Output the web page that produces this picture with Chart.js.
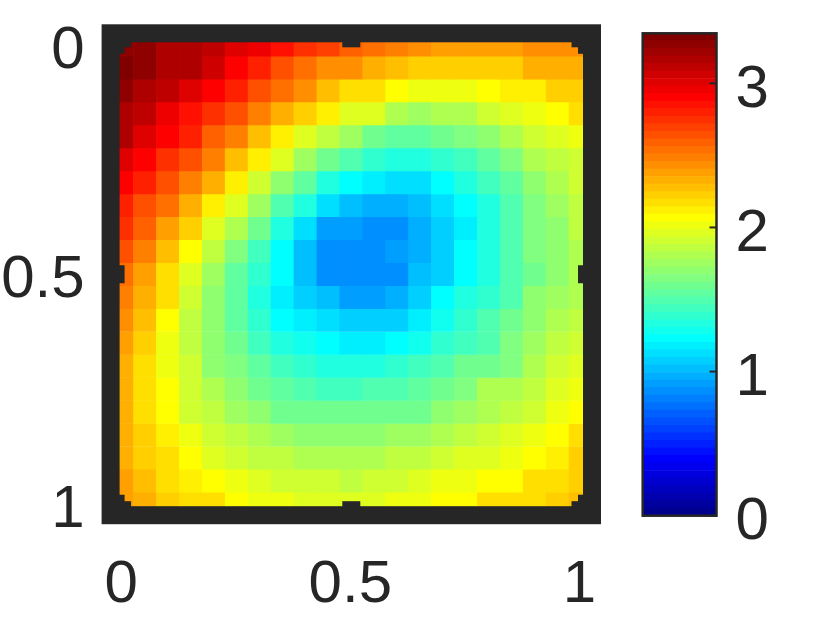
<!DOCTYPE html>
<html>
<head>
<meta charset="utf-8">
<script src="https://cdn.jsdelivr.net/npm/chart.js@4"></script>
<style>
  body { margin: 0; background: #fff; }
  canvas { position: absolute; left: 0; top: 0; }
</style>
</head>
<body>
<canvas id="heatChart" width="830" height="625"></canvas>
<canvas id="barChart" width="830" height="625"></canvas>
<script>
// data
const columns = ['0','0.05','0.1','0.15','0.2','0.25','0.3','0.35','0.4','0.45','0.5','0.55','0.6','0.65','0.7','0.75','0.8','0.85','0.9','0.95','1'];
const rowPositions = [0,0.05,0.1,0.15,0.2,0.25,0.3,0.35,0.4,0.45,0.5,0.55,0.6,0.65,0.7,0.75,0.8,0.85,0.9,0.95,1];
const axisTicks = [0, 0.5, 1];
const colorbarTicks = [0, 1, 2, 3];
const colorMax = 3.347;

const heatValues = [
  [3.29,3.27,3.19,3.17,3.11,3.03,2.98,2.87,2.75,2.70,2.58,2.54,2.48,2.44,2.39,2.39,2.39,2.39,2.43,2.43,2.43],
  [3.32,3.25,3.19,3.14,3.05,2.90,2.80,2.64,2.56,2.45,2.42,2.35,2.30,2.24,2.21,2.24,2.24,2.24,2.31,2.35,2.35],
  [3.27,3.19,3.09,3.03,2.91,2.80,2.64,2.54,2.43,2.29,2.19,2.17,2.07,2.01,2.01,2.01,2.07,2.12,2.12,2.24,2.24],
  [3.19,3.09,2.98,2.87,2.75,2.64,2.48,2.33,2.22,2.12,1.96,1.96,1.80,1.75,1.80,1.80,1.91,1.96,2.01,2.07,2.17],
  [3.14,3.03,2.90,2.80,2.59,2.46,2.275,2.12,1.96,1.84,1.75,1.60,1.54,1.54,1.60,1.65,1.70,1.80,1.91,1.96,2.00],
  [3.03,2.90,2.75,2.64,2.48,2.275,2.12,1.96,1.75,1.60,1.49,1.39,1.33,1.33,1.39,1.44,1.54,1.65,1.78,1.84,1.89],
  [2.90,2.80,2.64,2.48,2.33,2.12,1.89,1.70,1.54,1.33,1.23,1.18,1.12,1.12,1.23,1.33,1.44,1.54,1.70,1.80,1.89],
  [2.80,2.64,2.54,2.33,2.12,1.96,1.73,1.49,1.33,1.12,1.02,0.97,0.97,1.02,1.12,1.23,1.33,1.49,1.65,1.75,1.84],
  [2.75,2.59,2.38,2.22,1.96,1.80,1.60,1.33,1.12,0.93,0.89,0.86,0.86,0.97,1.05,1.18,1.33,1.49,1.65,1.70,1.84],
  [2.64,2.48,2.275,2.07,1.86,1.65,1.44,1.23,1.02,0.86,0.84,0.84,0.89,0.97,1.05,1.23,1.33,1.49,1.65,1.70,1.78],
  [2.54,2.38,2.19,1.96,1.75,1.54,1.39,1.23,1.02,0.86,0.84,0.86,0.86,1.00,1.09,1.23,1.33,1.49,1.62,1.70,1.78],
  [2.51,2.33,2.17,1.89,1.68,1.54,1.33,1.18,1.09,1.00,0.93,0.93,0.97,1.05,1.23,1.33,1.39,1.49,1.68,1.75,1.78],
  [2.45,2.275,2.07,1.84,1.68,1.54,1.39,1.23,1.20,1.12,1.09,1.05,1.09,1.20,1.28,1.39,1.49,1.60,1.70,1.80,1.84],
  [2.40,2.24,2.01,1.84,1.68,1.60,1.44,1.33,1.28,1.23,1.20,1.20,1.23,1.28,1.39,1.44,1.49,1.65,1.75,1.86,1.89],
  [2.35,2.19,2.00,1.89,1.70,1.65,1.54,1.44,1.39,1.33,1.33,1.33,1.39,1.44,1.49,1.60,1.62,1.65,1.78,1.91,1.94],
  [2.33,2.19,2.07,1.89,1.78,1.68,1.60,1.54,1.49,1.44,1.44,1.47,1.49,1.54,1.60,1.65,1.78,1.80,1.86,1.96,2.00],
  [2.33,2.19,2.07,1.91,1.84,1.73,1.68,1.62,1.60,1.60,1.60,1.62,1.62,1.62,1.68,1.73,1.80,1.86,1.91,2.01,2.07],
  [2.33,2.22,2.12,2.00,1.89,1.84,1.78,1.75,1.70,1.70,1.70,1.70,1.75,1.75,1.78,1.84,1.89,1.94,2.01,2.07,2.17],
  [2.33,2.22,2.17,2.07,1.96,1.91,1.86,1.86,1.80,1.80,1.80,1.80,1.86,1.86,1.89,1.94,1.96,2.01,2.07,2.12,2.22],
  [2.38,2.275,2.17,2.12,2.07,2.01,1.96,1.91,1.91,1.91,1.86,1.91,1.91,1.96,2.01,2.01,2.07,2.07,2.17,2.17,2.22],
  [2.38,2.35,2.24,2.19,2.17,2.07,2.01,2.01,1.96,1.96,1.94,1.96,2.01,2.01,2.07,2.07,2.17,2.19,2.19,2.24,2.30]
];

// MATLAB jet, 64 levels
const jet = [
  '#00008f','#00009f','#0000af','#0000bf','#0000cf','#0000df','#0000ef','#0000ff',
  '#0010ff','#0020ff','#0030ff','#0040ff','#0050ff','#0060ff','#0070ff','#0080ff',
  '#008fff','#009fff','#00afff','#00bfff','#00cfff','#00dfff','#00efff','#00ffff',
  '#10ffef','#20ffdf','#30ffcf','#40ffbf','#50ffaf','#60ff9f','#70ff8f','#80ff80',
  '#8fff70','#9fff60','#afff50','#bfff40','#cfff30','#dfff20','#efff10','#ffff00',
  '#ffef00','#ffdf00','#ffcf00','#ffbf00','#ffaf00','#ff9f00','#ff8f00','#ff8000',
  '#ff7000','#ff6000','#ff5000','#ff4000','#ff3000','#ff2000','#ff1000','#ff0000',
  '#ef0000','#df0000','#cf0000','#bf0000','#af0000','#9f0000','#8f0000','#800000'
];

const dark = '#262626';
const labelFont = { family: '"Liberation Sans", Arial, sans-serif', size: 60 };

function colorFor(v) {
  return jet[Math.min(jet.length - 1, Math.floor(v / colorMax * jet.length))];
}

// thick box + thick inward ticks on all four sides (corners are just ticks at 0 and 1)
const framePlugin = {
  id: 'frame',
  afterDraw(chart) {
    const { ctx, chartArea: a, scales } = chart;
    const lw = 18, tickLen = 14;
    ctx.save();
    ctx.strokeStyle = dark;
    ctx.fillStyle = dark;
    ctx.lineWidth = lw;
    ctx.strokeRect(a.left, a.top, a.right - a.left, a.bottom - a.top);
    axisTicks.forEach((t) => {
      const px = scales.x.getPixelForValue(columns.indexOf(String(t)));
      ctx.fillRect(px - lw / 2, a.top, lw, tickLen);
      ctx.fillRect(px - lw / 2, a.bottom - tickLen, lw, tickLen);
      const py = scales.y.getPixelForValue(t);
      ctx.fillRect(a.left, py - lw / 2, tickLen, lw);
      ctx.fillRect(a.right - tickLen, py - lw / 2, tickLen, lw);
    });
    ctx.restore();
  }
};

const colorbarFrame = {
  id: 'colorbarFrame',
  afterDraw(chart) {
    const { ctx, chartArea: a, scales } = chart;
    ctx.save();
    ctx.strokeStyle = dark;
    ctx.lineWidth = 2.5;
    ctx.strokeRect(a.left, a.top, a.right - a.left, a.bottom - a.top);
    ctx.lineWidth = 2;
    colorbarTicks.forEach((t) => {
      const py = scales.y.getPixelForValue(t);
      ctx.beginPath();
      ctx.moveTo(a.right - 7, py);
      ctx.lineTo(a.right, py);
      ctx.stroke();
    });
    ctx.restore();
  }
};

const half = 0.0255; // a hair over half a cell so no seams show
new Chart(document.getElementById('heatChart'), {
  type: 'bar',
  data: {
    labels: columns,
    datasets: heatValues.map((row, r) => ({
      data: row.map(() => [rowPositions[r] - half, rowPositions[r] + half]),
      backgroundColor: row.map(colorFor),
      borderWidth: 0,
      barPercentage: 1.03,
      categoryPercentage: 1,
      grouped: false
    }))
  },
  plugins: [framePlugin],
  options: {
    responsive: false,
    animation: false,
    layout: { padding: { left: 0, right: 238, top: 33.3, bottom: 0 } },
    plugins: { legend: { display: false }, tooltip: { enabled: false } },
    scales: {
      x: {
        grid: { display: false, drawTicks: false },
        border: { display: false },
        afterFit: (s) => { s.height = 109.8; s.paddingLeft = 0; s.paddingRight = 0; },
        ticks: {
          autoSkip: false,
          maxRotation: 0,
          padding: 34,
          labelOffset: -1,
          color: dark,
          font: labelFont,
          callback: (v, i) => (axisTicks.includes(Number(columns[i])) ? columns[i] : '')
        }
      },
      y: {
        reverse: true,
        min: -0.025,
        max: 1.025,
        grid: { display: false, drawTicks: false },
        border: { display: false },
        afterFit: (s) => { s.width = 110.6; s.paddingTop = 0; s.paddingBottom = 0; },
        afterBuildTicks: (s) => { s.ticks = axisTicks.map((v) => ({ value: v })); },
        ticks: {
          padding: 26,
          labelOffset: 6.5,
          color: dark,
          font: labelFont,
          callback: (v) => String(v)
        }
      }
    }
  }
});

new Chart(document.getElementById('barChart'), {
  type: 'bar',
  data: {
    labels: ['level'],
    datasets: jet.map((c, i) => ({
      data: [[i / jet.length * colorMax, (i + 1) / jet.length * colorMax]],
      backgroundColor: c,
      borderWidth: 0,
      barPercentage: 1,
      categoryPercentage: 1,
      grouped: false
    }))
  },
  plugins: [colorbarFrame],
  options: {
    responsive: false,
    animation: false,
    layout: { padding: { left: 642.7, right: 0, top: 33.3, bottom: 109.3 } },
    plugins: { legend: { display: false }, tooltip: { enabled: false } },
    scales: {
      x: { display: false },
      y: {
        position: 'right',
        min: 0,
        max: colorMax,
        grid: { display: false, drawTicks: false },
        border: { display: false },
        afterFit: (s) => { s.width = 113.5; s.paddingTop = 0; s.paddingBottom = 0; },
        afterBuildTicks: (s) => { s.ticks = colorbarTicks.map((v) => ({ value: v })); },
        ticks: {
          padding: 19,
          labelOffset: 7,
          color: dark,
          font: labelFont,
          callback: (v) => String(v)
        }
      }
    }
  }
});
</script>
</body>
</html>
